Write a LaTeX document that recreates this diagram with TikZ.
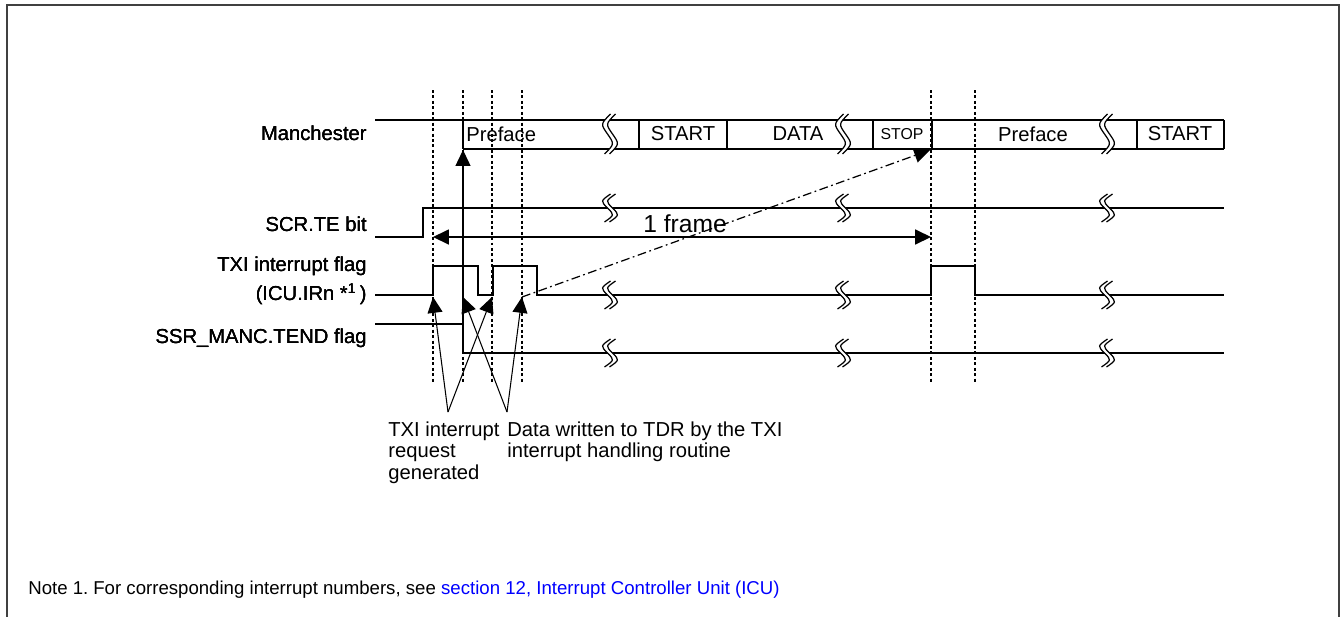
\documentclass[tikz,border=0pt]{standalone}
\usepackage{fontspec}
\setmainfont{Liberation Sans}
\usepackage{xcolor}
\definecolor{ink}{RGB}{0,0,0}
\definecolor{rim}{RGB}{64,64,64}
\definecolor{linkblue}{RGB}{0,0,255}
\usetikzlibrary{arrows.meta,positioning,calc}

%% break mark on a waveform: x, y, half height
\newcommand{\wavebreak}[3]{%
  \fill[white] (#1+0.5,#2-#3) .. controls (#1-9.5,#2-#3/2) .. (#1-2.5,#2)
    .. controls (#1+4.5,#2+#3/2) .. (#1-5.5,#2+#3) -- (#1-0.5,#2+#3)
    .. controls (#1+9.5,#2+#3/2) .. (#1+2.5,#2)
    .. controls (#1-4.5,#2-#3/2) .. (#1+5.5,#2-#3) -- cycle;
  \draw[brk] (#1+0.5,#2-#3) .. controls (#1-9.5,#2-#3/2) .. (#1-2.5,#2)
    .. controls (#1+4.5,#2+#3/2) .. (#1-5.5,#2+#3);
  \draw[brk] (#1+5.5,#2-#3) .. controls (#1-4.5,#2-#3/2) .. (#1+2.5,#2)
    .. controls (#1+9.5,#2+#3/2) .. (#1-0.5,#2+#3);
}

\begin{document}
\begin{tikzpicture}[x=0.02cm,y=-0.02cm,
  sig/.style={line width=1.1pt,ink},
  brk/.style={line width=0.7pt,ink},
  dotline/.style={line width=1.2pt,ink,dash pattern=on 1.7pt off 1.4pt},
  ann/.style={-{Triangle[length=9pt,width=8.5pt]},line width=0.6pt,ink},
  span/.style={{Triangle[length=9pt,width=8.5pt]}-{Triangle[length=9pt,width=8.5pt]},line width=0.8pt,ink},
  chain/.style={-{Triangle[length=9pt,width=8.5pt]},line width=0.7pt,ink,
                dash pattern=on 5pt off 2pt on 1pt off 2pt},
  lbl/.style={font=\fontsize{11.5}{13.8}\selectfont,inner sep=0pt},
  small/.style={font=\fontsize{9}{11}\selectfont,inner sep=0pt},
  notetxt/.style={font=\fontsize{10.6}{12.5}\selectfont,inner sep=0pt},
]
  \useasboundingbox (0,0) rectangle (1341,616);
  \draw[rim,line width=1.2pt] (7,620) -- (7,5) -- (1339,5) -- (1339,620);

  %% timing marks
  \foreach \xx in {433,463,492,522,931,975}
    \draw[dotline] (\xx,90) -- (\xx,383);

  %% Manchester
  \draw[sig] (375,120) -- (1224,120);
  \draw[sig] (463,149) -- (1224,149);
  \foreach \xx in {463,639,727,873,932,1137,1224}
    \draw[sig] (\xx,120) -- (\xx,149);
  \foreach \xx in {610,843,1107}
    \wavebreak{\xx}{134}{20}
  \node[lbl,anchor=east] (lman) at (367,133) {Manchester};
  \node[lbl,anchor=west] (pref1) at (466,134) {Preface};
  \node[lbl] (start1) at (683,134) {START};
  \node[lbl] (data) at (798,134) {DATA};
  \node[small] (stop) at (902,134) {STOP};
  \node[lbl] (pref2) at (1033,134) {Preface};
  \node[lbl] (start2) at (1180,134) {START};

  %% SCR.TE bit
  \draw[sig] (375,237) -- (423,237) -- (423,208) -- (1224,208);
  \foreach \xx in {610,843,1107}
    \wavebreak{\xx}{208}{14}
  \node[lbl,anchor=east] (lte) at (367,224) {SCR.TE bit};

  %% TXI interrupt flag
  \draw[sig] (375,295) -- (433,295) -- (433,266) -- (478,266) -- (478,295)
    -- (493,295) -- (493,266) -- (537,266) -- (537,295) -- (931,295)
    -- (931,266) -- (975,266) -- (975,295) -- (1224,295);
  \foreach \xx in {610,843,1107}
    \wavebreak{\xx}{295}{14}
  \node[lbl,anchor=east,align=right,font=\fontsize{11.5}{16.5}\selectfont]
    (ltxi) at (367,281) {TXI interrupt flag\\(ICU.IRn *\textsuperscript{1}\,)};

  %% SSR_MANC.TEND flag
  \draw[sig] (375,324) -- (463,324) -- (463,353) -- (1224,353);
  \foreach \xx in {610,843,1107}
    \wavebreak{\xx}{353}{14}
  \node[lbl,anchor=east] (ltend) at (367,338) {SSR\_MANC.TEND flag};

  %% points
  \coordinate (tendfall) at (463,353);
  \coordinate (prefstart) at (463,150);
  \coordinate (txia) at (433,297);
  \coordinate (txib) at (492,297);
  \coordinate (tdra) at (463,297);
  \coordinate (tdrb) at (522,297);
  \coordinate (reqfoot) at (448,412);
  \coordinate (tdrfoot) at (507,412);
  \coordinate (stopend) at (930,150);
  \coordinate (framea) at (433,237);
  \coordinate (frameb) at (931,237);

  %% connectors
  \draw[ann] (tendfall) -- (prefstart);
  \draw[chain] (tdrb) -- (stopend);
  \draw[span] (framea) -- (frameb);
  \node[font=\fontsize{14}{16}\selectfont,inner sep=0pt,anchor=south]
    (frm) at (685,233) {1 frame};
  \draw[ann] (reqfoot) -- (txia);
  \draw[ann] (reqfoot) -- (txib);
  \draw[ann] (tdrfoot) -- (tdra);
  \draw[ann] (tdrfoot) -- (tdrb);

  \node[lbl,anchor=north west,align=left,font=\fontsize{11.5}{12.5}\selectfont]
    (req) at (388,421) {TXI interrupt\\request\\generated};
  \node[lbl,anchor=north west,align=left,font=\fontsize{11.5}{12.5}\selectfont]
    (tdr) at (507,421) {Data written to TDR by the TXI\\interrupt handling routine};

  %% note
  \node[notetxt,anchor=base west] (note) at (28,594) {Note 1.};
  \node[notetxt,anchor=base west] (notebody) at (93,594)
    {For corresponding interrupt numbers, see
     \textcolor{linkblue}{section 12, Interrupt Controller Unit (ICU)}};
\end{tikzpicture}
\end{document}
